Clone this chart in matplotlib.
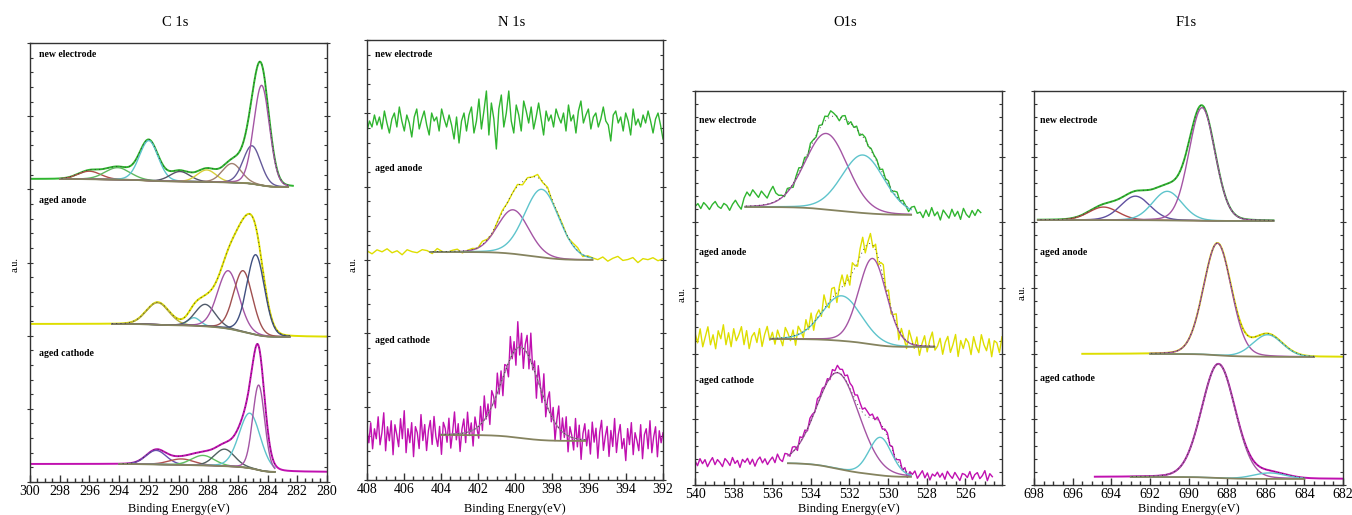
import numpy as np
import matplotlib
matplotlib.use("Agg")
import matplotlib.pyplot as plt
from matplotlib.ticker import MultipleLocator

plt.rcParams['font.family'] = ['Liberation Serif', 'DejaVu Serif']

# ---- peak fits: centre (eV), height (a.u.), FWHM (eV) ----
# C 1s
c1s_new_center = [296.0, 294.1, 292.0, 289.9, 288.1, 286.4, 285.05, 284.4]
c1s_new_height = [8, 12, 40, 10, 12, 19, 38, 100]
c1s_new_fwhm = [1.8, 2.0, 1.5, 1.6, 1.5, 1.5, 1.4, 1.25]

c1s_anode_center = [291.4, 288.95, 288.2, 286.65, 285.65, 284.8]
c1s_anode_height = [22, 8, 22, 58, 61, 80]
c1s_anode_fwhm = [1.8, 1.0, 1.6, 1.7, 1.5, 1.4]

c1s_cathode_center = [291.5, 289.8, 288.35, 286.9, 285.2, 284.6]
c1s_cathode_height = [14, 6, 10, 17, 55, 85]
c1s_cathode_fwhm = [1.6, 2.0, 1.8, 1.6, 1.7, 0.95]

# N 1s
n1s_anode_center = [400.1, 398.55]
n1s_anode_height = [44, 68]
n1s_anode_fwhm = [2.0, 2.2]

n1s_cathode_center = [399.7]
n1s_cathode_height = [91]
n1s_cathode_fwhm = [2.4]

# O 1s
o1s_new_center = [533.2, 531.3]
o1s_new_height = [76, 58]
o1s_new_fwhm = [2.6, 2.6]

o1s_anode_center = [532.4, 530.8]
o1s_anode_height = [45, 86]
o1s_anode_fwhm = [2.4, 1.7]

o1s_cathode_center = [532.6, 530.4]
o1s_cathode_height = [96, 38]
o1s_cathode_fwhm = [2.6, 1.4]

# F 1s
f1s_new_center = [694.4, 692.75, 691.1, 689.3]
f1s_new_height = [13, 24, 29, 113]
f1s_new_fwhm = [1.8, 1.8, 1.8, 1.6]

f1s_anode_center = [688.5, 685.9]
f1s_anode_height = [112, 22]
f1s_anode_fwhm = [1.7, 1.8]

f1s_cathode_center = [688.45, 685.8]
f1s_cathode_height = [114, 6]
f1s_cathode_fwhm = [2.05, 2.0]

# noise on the measured traces (a.u.), read left to right
n1s_new_level = 355
n1s_new_noise = [
    -6, 4, -2, 10, 0, 8, -4, 14, 2, -8, 6, 12, -2, 18, 4, -6, 10, 2, -12, 8,
    16, -4, 6, 14, 0, -10, 12, 4, 8, -6, 16, 6, -2, 10, 0, -14, 8, -18, 4, 12,
    -6, 10, 18, -8, 4, 26, -4, 14, 34, -10, 22, 6, -24, 16, 30, -2, 12, 34, 4, -8,
    20, 10, -6, 24, 14, 2, 18, -4, 8, 22, 6, -10, 14, 4, 10, -2, 16, 8, 2, 12,
    -6, 20, 4, 10, -8, 14, 24, 2, 10, 16, -4, 8, 12, -2, 6, 18, 4, 0, -16, 10,
    14, 2, 8, -6, 12, 4, -10, 16, 0, 6, -2, 10, 2, 14, 4, -8, 6, 12, 0, -14]
n1s_anode_noise = [
    1, -2, 2, 0, 3, -1, 1, -3, 2, 0, -1, 2, 1, -2, 3, 0, -1, 1, 2, -2,
    0, 1, -1, 3, 0, -2, 1, 2, -1, 0, 2, -3, 1, 0, 3, -1, 2, -2, 0, 1,
    -1, 2, 3, -2, 1, 0, -1, 2, -2, 1, 3, -1, 0, 2, -3, 1, 0, 2, -1, 1]
n1s_cathode_noise = [
    4, -8, 12, -14, 6, -4, 18, -10, 2, 22, -16, 8, -6, 14, -20, 10, 0, -12, 16, -4,
    24, -18, 6, -8, 12, -22, 8, 2, -14, 20, -6, 10, -16, 4, 14, -10, 18, -2, -12, 8,
    -20, 12, 6, -8, 16, -14, 2, 22, -6, 10, -18, 4, 14, -10, 20, -4, 8, -16, 12, 0,
    -12, 18, -8, 24, -2, 10, -14, 16, 6, -10, 20, -6, 12, -18, 8, 2, -14, 22, -4, 10,
    -16, 26, -8, 14, -20, 6, 18, -12, 28, -4, 10, -22, 16, 4, -10, 24, -14, 8, 20, -6,
    12, -18, 6, 22, -10, 14, -4, 18, -16, 10, 2, -12, 20, -8, 14, -20, 6, 16, -6, 10,
    -14, 18, -2, 12, -18, 8, 20, -10, 4, 14, -16, 10, -6, 22, -12, 6, 16, -8, 2, -20,
    12, -4, 18, -14, 8, 0, -10, 16, -18, 6, 12, -8, 20, -12, 4, 14, -16, 10, -2, 8]
o1s_new_noise = [
    0, 3, -2, 4, 1, -3, 2, 5, 0, -2, 3, 1, -4, 2, 6, 1, -3, 8,
    14, 10, 16, 12, 8, 14, 10, 6, 12, 16, 8, 4,
    2, -2, 3, 0, -4, 2, 5, -1, 3, -3, 4, 1, -2, 4, 0, 5, 2, 6, 3,
    0, -4, 2, 4, -3, 2, -1, 3, -3, 2, 3, -1, 2, 1,
    2, -2, 4, 0, 3, -3, 2, 5, -1, 3, 0, -4, 2, 4, -2,
    0, -5, 3, -3, 6, -2, 2, -6, 4, 0, -4, 5, -2, 3, -5, 6, 0, -3, 4, -1, 5, 2]
o1s_anode_noise = [
    6, -4, 10, -8, 2, 12, -6, 4, -10, 8, 0, 14, -6, 6, -8, 10, -2, 4, 12, -6,
    8, -10, 2, 6, -4, 10, -8, 4, 12, -2, 6, -6, 8, 0, -8, 10, 4, -4, 6, -10,
    8, 2, -6, 10, -2, 12, -8, 4, 6, -4, 14, 0, -6, 10, 8, -10, 4, 12, -2, 6,
    -8, 10, 2, -4, 8, 14, -6, 2, 10, -2, 6, -8, 4, 12, -4, 8, -6, 2, 10, -10,
    6, 0, -8, 12, 4, -4, 8, -10, 2, 10, -6, 6, 14, -4, 0, 8, -8, 4, 10, -6,
    2, 12, -10, 6, -2, 8, 4, -8, 10, 0, -6, 12, 2, -4, 8, -10, 6, 4, -6, 10]
o1s_cathode_noise = [
    2, -3, 4, -1, 3, -4, 1, 5, -2, 3, 0, -4, 4, 1, -3, 5, -1, 2, -5, 3,
    0, 4, -2, 3, -4, 2, 5, -1, 3, -3, 1, 4, -2, 6, 0, -3, 4, 2, -2, 5,
    3, -4, 6, 1, 4, -2, 5, 3, -1, 6, 2, 4, 0, 3, -2, 5, 2, 7, 4, 6,
    3, 8, 5, 7, 4, 9, 6, 3, 7, 5, 2, 4, -1, 3, 0, -3, 2, 4, -2, 3,
    -4, 1, 5, -2, 3, -5, 2, 0, 4, -3, 1, 5, -2, 3, -4, 2, 0, 4, -1, 3,
    -3, 5, 1, -2, 4, 0, -4, 3, 2, -1, 5, -3, 2, 4, -2, 1, 6, -4, 3, 0]

labels = ['new electrode', 'aged anode', 'aged cathode']

GREEN, YELLOW, MAGENTA = '#2fb52f', '#dede00', '#c010b0'
CYAN, PURPLE = '#5ec4cc', '#a455a4'
BG_COLOR = '#85835f'
FIT_COLOR = '#333333'


def pv(e, c, h, w, eta=0.1):
    x = (e - c) / (w / 2)
    return h * ((1 - eta) * np.exp(-np.log(2) * x ** 2) + eta / (1 + x ** 2))


def spectrum(ax, centers, heights, fwhm, b_hi, b_lo, raw_span, fit_span,
             raw_color, comp_colors, noise=None):
    e = np.linspace(raw_span[1], raw_span[0], 900)
    comps = [pv(e, c, h, w) for c, h, w in zip(centers, heights, fwhm)]
    peaks = np.sum(comps, axis=0)
    cum = np.concatenate([[0], np.cumsum((peaks[1:] + peaks[:-1]) / 2 * np.diff(e))])
    bg = b_lo + (b_hi - b_lo) * cum / cum[-1]
    total = bg + peaks
    if noise is None:
        ax.plot(e, total, color=raw_color, lw=1.4)
    else:
        en = np.linspace(raw_span[0], raw_span[1], len(noise))
        ax.plot(en, np.interp(en, e, total) + np.array(noise), color=raw_color, lw=1.0)
    m = (e <= fit_span[0]) & (e >= fit_span[1])
    for comp, col in zip(comps, comp_colors):
        ax.plot(e[m], bg[m] + comp[m], color=col, lw=1.0)
    ax.plot(e[m], bg[m], color=BG_COLOR, lw=1.3)
    ax.plot(e[m], total[m], color=FIT_COLOR, lw=0.6, ls=(0, (1.2, 4)))


W, Hf = 1352, 515
fig = plt.figure(figsize=(W / 100, Hf / 100), dpi=100)


def make_axes(x0, x1, top, bottom, xlim):
    ax = fig.add_axes([x0 / W, 1 - bottom / Hf, (x1 - x0) / W, (bottom - top) / Hf])
    h = bottom - top
    ax.set_xlim(*xlim)
    ax.set_ylim(0, h)
    ax.xaxis.set_major_locator(MultipleLocator(2))
    ax.xaxis.set_minor_locator(MultipleLocator(0.5))
    ax.yaxis.set_major_locator(MultipleLocator(h / 6))
    ax.yaxis.set_minor_locator(MultipleLocator(h / 30))
    ax.tick_params(axis='x', which='both', direction='in', top=False, pad=2,
                   labelsize=10, width=1, color='#333333')
    ax.tick_params(axis='x', which='major', length=5)
    ax.tick_params(axis='x', which='minor', length=3)
    ax.tick_params(axis='y', which='both', left=True, right=True, labelleft=False,
                   width=0.8, color='#333333')
    ax.tick_params(axis='y', which='major', direction='inout', length=5)
    ax.tick_params(axis='y', which='minor', direction='in', length=2.5)
    for s in ax.spines.values():
        s.set_color('#333333')
        s.set_linewidth(1.0)
    ax.xaxis.set_major_formatter(plt.FuncFormatter(lambda v, p: '%d' % round(v)))
    fig.text((x0 + x1) / 2 / W, 1 - 509 / Hf, 'Binding Energy(eV)', ha='center',
             va='center', fontsize=9)
    return ax


def put_labels(ax, ys, x=0.03):
    for lab, y in zip(labels, ys):
        ax.text(x, y, lab, transform=ax.transAxes, fontsize=7, fontweight='bold',
                va='center', ha='left')


# ---------------- C 1s ----------------
ax = make_axes(30, 327, 43, 482, (300, 280))
spectrum(ax, c1s_new_center, c1s_new_height, c1s_new_fwhm, 303, 295, (300, 282.3), (298, 282.6),
         GREEN, ['#b0504a', '#5fb85f', CYAN, '#555566', '#d8cf3a', '#a08070', '#655a9a', PURPLE])
spectrum(ax, c1s_anode_center, c1s_anode_height, c1s_anode_fwhm, 158, 145, (300, 280), (294.5, 282.5),
         YELLOW, ['#b8b040', CYAN, '#505a6a', PURPLE, '#a05050', '#405080'])
spectrum(ax, c1s_cathode_center, c1s_cathode_height, c1s_cathode_fwhm, 18, 10, (300, 280), (294, 283.5),
         MAGENTA, ['#6a50b0', '#b05050', '#60c060', '#506060', CYAN, PURPLE])
put_labels(ax, [0.973, 0.642, 0.292])

# ---------------- N 1s ----------------
ax = make_axes(367, 663, 40, 480, (408, 392))
en = np.linspace(408, 392, len(n1s_new_noise))
ax.plot(en, n1s_new_level + np.array(n1s_new_noise), color=GREEN, lw=1.0)
spectrum(ax, n1s_anode_center, n1s_anode_height, n1s_anode_fwhm, 228, 220, (408, 392), (404.6, 395.8),
         YELLOW, [PURPLE, CYAN], n1s_anode_noise)
spectrum(ax, n1s_cathode_center, n1s_cathode_height, n1s_cathode_fwhm, 45, 39, (408, 392), (404, 396.2),
         MAGENTA, ['#a07aa0'], n1s_cathode_noise)
put_labels(ax, [0.966, 0.709, 0.318], x=0.027)

# ---------------- O 1s ----------------
ax = make_axes(695, 1002, 91, 485, (540, 524.1))
spectrum(ax, o1s_new_center, o1s_new_height, o1s_new_fwhm, 278, 270, (540, 525.2), (537.4, 528.8),
         GREEN, [PURPLE, CYAN], o1s_new_noise)
spectrum(ax, o1s_anode_center, o1s_anode_height, o1s_anode_fwhm, 146, 138, (540, 524.1), (536.1, 527.6),
         YELLOW, [CYAN, PURPLE], o1s_anode_noise)
spectrum(ax, o1s_cathode_center, o1s_cathode_height, o1s_cathode_fwhm, 22, 8, (540, 524.6), (535.2, 528.8),
         MAGENTA, [PURPLE, CYAN], o1s_cathode_noise)
put_labels(ax, [0.926, 0.589, 0.266], x=0.012)

# ---------------- F 1s ----------------
ax = make_axes(1034, 1343, 91, 485, (698, 682))
spectrum(ax, f1s_new_center, f1s_new_height, f1s_new_fwhm, 265, 264, (697.8, 685.6), (697.8, 685.6),
         GREEN, ['#b04848', '#6050a0', CYAN, PURPLE])
spectrum(ax, f1s_anode_center, f1s_anode_height, f1s_anode_fwhm, 131, 128, (695.5, 682), (692, 683.5),
         YELLOW, [PURPLE, CYAN])
spectrum(ax, f1s_cathode_center, f1s_cathode_height, f1s_cathode_fwhm, 8, 6, (694.85, 682), (693, 684),
         MAGENTA, [PURPLE, CYAN])
put_labels(ax, [0.926, 0.589, 0.271], x=0.02)

# titles and y labels
for x, t in [(175, 'C 1s'), (512, 'N 1s'), (845, 'O1s'), (1186, 'F1s')]:
    fig.text(x / W, 1 - 22 / Hf, t, ha='center', va='center', fontsize=10.5)
for x, y in [(15, 265), (353, 264), (682, 295), (1022, 293)]:
    fig.text(x / W, 1 - y / Hf, 'a.u.', ha='center', va='center', fontsize=7.5, rotation=90)

fig.savefig('out.png', dpi=100)
